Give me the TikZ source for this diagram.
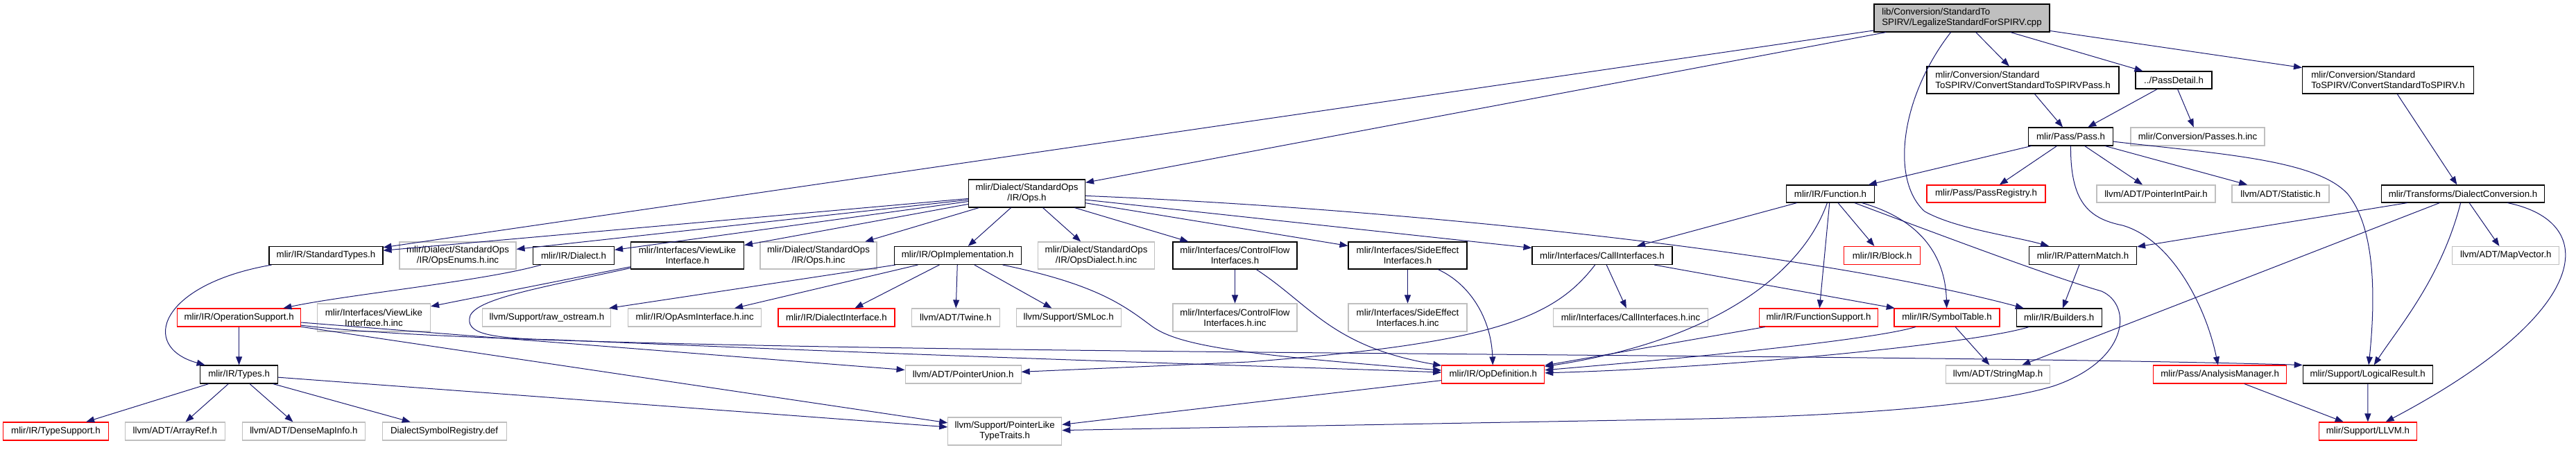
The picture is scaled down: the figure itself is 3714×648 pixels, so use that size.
\documentclass[tikz,border=0pt]{standalone}
\usepackage{fontspec}
\setmainfont{Liberation Sans}
\usepackage{tikz}
\usetikzlibrary{arrows.meta}
\usepackage{xcolor}
\definecolor{incblue}{HTML}{191970}
\definecolor{cutred}{HTML}{FF0000}
\definecolor{extgray}{HTML}{BFBFBF}

\begin{document}
\begin{tikzpicture}[
    x=1pt, y=-1pt,
    >={Triangle[length=12pt,width=9pt]},
    box/.style={rectangle, line width=1.1pt, inner xsep=4pt, inner ysep=1pt,
        minimum height=26pt, align=center, font=\fontsize{13.3}{15}\selectfont},
    docbox/.style={box, draw=black},
    cutbox/.style={box, draw=cutred},
    extbox/.style={box, draw=extgray},
    rootbox/.style={box, draw=black, fill=extgray, align=left},
    tall/.style={minimum height=40pt},
    inc/.style={draw=incblue, line width=1pt, ->}
]
\useasboundingbox (0,0) rectangle (3714,648);

% file and its direct includes
\node[rootbox, minimum width=253pt, tall] (root) at (2828.5,26) {lib/Conversion/StandardTo\\SPIRV/LegalizeStandardForSPIRV.cpp};
\node[docbox, align=left, minimum width=277pt, minimum height=39pt] (convpass) at (2916.5,115.5) {mlir/Conversion/Standard\\ToSPIRV/ConvertStandardToSPIRVPass.h};
\node[docbox, minimum width=110pt, minimum height=25pt] (passdetail) at (3134,115.5) {../PassDetail.h};
\node[docbox, align=left, minimum width=247pt, minimum height=39pt] (convstd) at (3443,115.5) {mlir/Conversion/Standard\\ToSPIRV/ConvertStandardToSPIRV.h};
\node[docbox, minimum width=122pt] (pass) at (2985.5,197) {mlir/Pass/Pass.h};
\node[extbox, minimum width=193pt] (passesinc) at (3168.5,197) {mlir/Conversion/Passes.h.inc};

\node[docbox, minimum width=168pt, tall] (ops) at (1480.5,279) {mlir/Dialect/StandardOps\\/IR/Ops.h};
\node[docbox, minimum width=127pt, minimum height=25pt] (function) at (2639,279.5) {mlir/IR/Function.h};
\node[cutbox, minimum width=171pt, minimum height=25pt] (passreg) at (2863.5,279.5) {mlir/Pass/PassRegistry.h};
\node[extbox, minimum width=171pt, minimum height=25pt] (ptrintpair) at (3108.5,279.5) {llvm/ADT/PointerIntPair.h};
\node[extbox, minimum width=140pt, minimum height=25pt] (statistic) at (3288,279.5) {llvm/ADT/Statistic.h};
\node[docbox, minimum width=235pt, minimum height=25pt] (dialconv) at (3551,279.5) {mlir/Transforms/DialectConversion.h};

\node[docbox, minimum width=164pt] (stdtypes) at (470,368.5) {mlir/IR/StandardTypes.h};
\node[extbox, minimum width=168pt, minimum height=39pt] (opsenums) at (660,368.5) {mlir/Dialect/StandardOps\\/IR/OpsEnums.h.inc};
\node[docbox, minimum width=117pt] (dialect) at (827,368.5) {mlir/IR/Dialect.h};
\node[docbox, minimum width=163pt, minimum height=39pt] (viewlike) at (991,368.5) {mlir/Interfaces/ViewLike\\Interface.h};
\node[extbox, minimum width=168pt, minimum height=39pt] (opsinc) at (1180,368.5) {mlir/Dialect/StandardOps\\/IR/Ops.h.inc};
\node[docbox, minimum width=183pt] (opimpl) at (1380.7,368.5) {mlir/IR/OpImplementation.h};
\node[extbox, minimum width=168pt, minimum height=39pt] (opsdialect) at (1580.6,368.5) {mlir/Dialect/StandardOps\\/IR/OpsDialect.h.inc};
\node[docbox, minimum width=179pt, minimum height=39pt] (ctrlflow) at (1780.5,368.5) {mlir/Interfaces/ControlFlow\\Interfaces.h};
\node[docbox, minimum width=171pt, minimum height=39pt] (sideeffect) at (2029.5,368.5) {mlir/Interfaces/SideEffect\\Interfaces.h};
\node[docbox, minimum width=202pt] (callif) at (2310,368.5) {mlir/Interfaces/CallInterfaces.h};
\node[cutbox, minimum width=110pt] (block) at (2713.7,368.5) {mlir/IR/Block.h};
\node[docbox, minimum width=155pt] (patmatch) at (3003,368.5) {mlir/IR/PatternMatch.h};
\node[extbox, minimum width=154pt] (mapvector) at (3612.8,368.5) {llvm/ADT/MapVector.h};

\node[cutbox, minimum width=178pt] (opsupport) at (344.6,458) {mlir/IR/OperationSupport.h};
\node[extbox, minimum width=163pt, tall] (viewlikeinc) at (539,458) {mlir/Interfaces/ViewLike\\Interface.h.inc};
\node[extbox, minimum width=185pt] (rawostream) at (788.4,458) {llvm/Support/raw\_ostream.h};
\node[extbox, minimum width=192pt] (opasm) at (1001.7,458) {mlir/IR/OpAsmInterface.h.inc};
\node[cutbox, minimum width=168pt] (dialectif) at (1206,458) {mlir/IR/DialectInterface.h};
\node[extbox, minimum width=127pt] (twine) at (1377.8,458) {llvm/ADT/Twine.h};
\node[extbox, minimum width=151pt] (smloc) at (1540.6,458) {llvm/Support/SMLoc.h};
\node[extbox, minimum width=179pt, tall] (ctrlflowinc) at (1780.5,458) {mlir/Interfaces/ControlFlow\\Interfaces.h.inc};
\node[extbox, minimum width=171pt, tall] (sideeffectinc) at (2029.5,458) {mlir/Interfaces/SideEffect\\Interfaces.h.inc};
\node[extbox, minimum width=223pt] (callifinc) at (2351,458) {mlir/Interfaces/CallInterfaces.h.inc};
\node[cutbox, minimum width=171pt] (funcsupport) at (2622,458) {mlir/IR/FunctionSupport.h};
\node[cutbox, minimum width=152pt] (symtable) at (2807,458) {mlir/IR/SymbolTable.h};
\node[docbox, minimum width=123pt] (builders) at (2968.7,458) {mlir/IR/Builders.h};

\node[docbox, minimum width=112pt] (types) at (344.6,540) {mlir/IR/Types.h};
\node[extbox, minimum width=167pt] (ptrunion) at (1388.6,540) {llvm/ADT/PointerUnion.h};
\node[cutbox, minimum width=148pt] (opdef) at (2152.7,540) {mlir/IR/OpDefinition.h};
\node[extbox, minimum width=150pt] (stringmap) at (2880.5,540) {llvm/ADT/StringMap.h};
\node[cutbox, minimum width=192pt] (analysis) at (3200.6,540) {mlir/Pass/AnalysisManager.h};
\node[docbox, minimum width=187pt] (logical) at (3413.7,540) {mlir/Support/LogicalResult.h};

\node[cutbox, minimum width=151.5pt] (typesupport) at (80.5,622) {mlir/IR/TypeSupport.h};
\node[extbox, minimum width=144pt] (arrayref) at (252.3,622) {llvm/ADT/ArrayRef.h};
\node[extbox, minimum width=177.5pt] (densemap) at (437.9,622) {llvm/ADT/DenseMapInfo.h};
\node[extbox, minimum width=179pt] (dsreg) at (640.6,622) {DialectSymbolRegistry.def};
\node[extbox, minimum width=164pt, tall] (ptrlike) at (1448.7,622) {llvm/Support/PointerLike\\TypeTraits.h};
\node[cutbox, minimum width=141pt] (llvm) at (3413.9,622) {mlir/Support/LLVM.h};

% includes of the .cpp
\draw[inc] (root) -- (convpass);
\draw[inc] (root) -- (passdetail);
\draw[inc] (root) -- (convstd);
\draw[inc] (root) -- (ops);
\draw[inc] (root) -- (stdtypes);
\draw[inc] (root) .. controls (2740,140) and (2725,260) .. (2775,305)
    .. controls (2820,330) and (2900,340) .. (patmatch);

% pass headers
\draw[inc] (convpass) -- (pass);
\draw[inc] (passdetail) -- (pass);
\draw[inc] (passdetail) -- (passesinc);
\draw[inc] (convstd) -- (dialconv);
\draw[inc] (pass) -- (function);
\draw[inc] (pass) -- (passreg);
\draw[inc] (pass) -- (ptrintpair);
\draw[inc] (pass) -- (statistic);
\draw[inc] (pass) .. controls (2985,290) and (3010,315) .. (3060,325)
    .. controls (3130,345) and (3180,440) .. (analysis);
\draw[inc] (pass) .. controls (3200,222) and (3340,230) .. (3385,280)
    .. controls (3425,330) and (3425,430) .. (logical);

% Ops.h
\draw[inc] (ops) -- (stdtypes);
\draw[inc] (ops) -- (opsenums);
\draw[inc] (ops) -- (dialect);
\draw[inc] (ops) -- (viewlike);
\draw[inc] (ops) -- (opsinc);
\draw[inc] (ops) -- (opimpl);
\draw[inc] (ops) -- (opsdialect);
\draw[inc] (ops) -- (ctrlflow);
\draw[inc] (ops) -- (sideeffect);
\draw[inc] (ops) -- (callif);
\draw[inc] (ops) .. controls (2000,300) and (2600,360) .. (builders);

% Function.h
\draw[inc] (function) -- (callif);
\draw[inc] (function) -- (funcsupport);
\draw[inc] (function) -- (block);
\draw[inc] (function) .. controls (2780,320) and (2805,380) .. (symtable);
\draw[inc] (function) .. controls (2600,390) and (2480,490) .. (opdef);
\draw[inc] (function) .. controls (2800,340) and (2960,400) .. (3030,420)
    .. controls (3075,440) and (3070,520) .. (2960,557)
    .. controls (2850,590) and (2600,602) .. (2400,605) -- (ptrlike);

% DialectConversion.h
\draw[inc] (dialconv) -- (patmatch);
\draw[inc] (dialconv) -- (stringmap);
\draw[inc] (dialconv) -- (mapvector);
\draw[inc] (dialconv) .. controls (3520,400) and (3460,470) .. (logical);
\draw[inc] (dialconv) .. controls (3750,320) and (3740,450) .. (llvm);

% second level
\draw[inc] (stdtypes) .. controls (230,410) and (200,500) .. (types);
\draw[inc] (dialect) .. controls (700,405) and (500,425) .. (opsupport);
\draw[inc] (viewlike) -- (viewlikeinc);
\draw[inc] (viewlike) .. controls (780,415) and (690,430) .. (678,455)
    .. controls (670,480) and (700,488) .. (800,490)
    .. controls (1500,520) and (1900,530) .. (opdef);
\draw[inc] (opimpl) -- (rawostream);
\draw[inc] (opimpl) -- (opasm);
\draw[inc] (opimpl) -- (dialectif);
\draw[inc] (opimpl) -- (twine);
\draw[inc] (opimpl) -- (smloc);
\draw[inc] (opimpl) .. controls (1580,410) and (1620,440) .. (1660,470)
    .. controls (1700,500) and (1800,512) .. (opdef);
\draw[inc] (ctrlflow) -- (ctrlflowinc);
\draw[inc] (ctrlflow) .. controls (1890,440) and (1920,500) .. (opdef);
\draw[inc] (sideeffect) -- (sideeffectinc);
\draw[inc] (sideeffect) .. controls (2120,410) and (2150,460) .. (opdef);
\draw[inc] (callif) -- (callifinc);
\draw[inc] (callif) -- (symtable);
\draw[inc] (callif) .. controls (2240,460) and (2150,495) .. (1800,522) -- (ptrunion);
\draw[inc] (patmatch) -- (builders);

% third level
\draw[inc] (opsupport) -- (types);
\draw[inc] (opsupport) -- (ptrunion);
\draw[inc] (opsupport) -- (ptrlike);
\draw[inc] (opsupport) .. controls (800,515) and (2600,506) .. (logical.north west);
\draw[inc] (funcsupport) -- (opdef);
\draw[inc] (symtable) .. controls (2700,490) and (2450,515) .. (opdef);
\draw[inc] (symtable) -- (stringmap);
\draw[inc] (builders) .. controls (2850,495) and (2500,530) .. (opdef);

% bottom
\draw[inc] (types) -- (typesupport);
\draw[inc] (types) -- (arrayref);
\draw[inc] (types) -- (densemap);
\draw[inc] (types) -- (dsreg);
\draw[inc] (types) -- (ptrlike);
\draw[inc] (opdef) -- (ptrlike);
\draw[inc] (analysis) -- (llvm);
\draw[inc] (logical) -- (llvm);
\end{tikzpicture}
\end{document}
